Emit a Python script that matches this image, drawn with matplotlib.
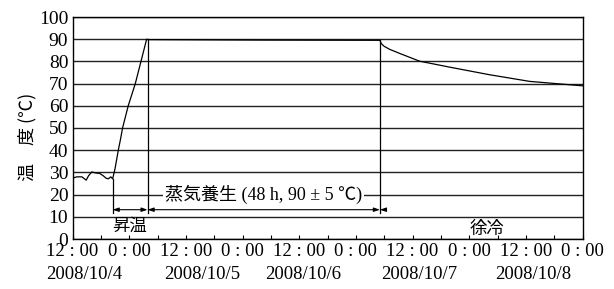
import matplotlib.pyplot as plt
import numpy as np

# temperature record, hours counted from 2008/10/3 12:00
hours = [0.0, 0.9, 2.0, 2.9, 3.4, 4.1, 4.8, 5.8, 6.5, 7.1, 7.6, 8.1, 8.5,
         9.0, 9.7, 10.2, 10.6, 11.8, 13.3, 14.5, 15.7, 16.0, 40.0, 65.1,
         65.4, 66.0, 67.2, 69.4, 73.5, 79.9, 88.3, 96.8, 108.0]
temps = [27.4, 28.0, 28.0, 26.5, 28.5, 30.2, 29.8, 29.5, 28.5, 27.4, 27.1, 28.0, 27.1,
         31.6, 40.0, 45.3, 50.0, 60.0, 70.0, 80.0, 90.0, 89.8, 89.6, 89.5,
         88.0, 86.8, 85.4, 83.5, 80.1, 77.4, 74.0, 71.0, 69.0]

# start of heating, steam curing, slow cooling
phase_hours = [8.5, 15.9, 65.1]
phase_names = ['昇温', '蒸気養生 (48 h, 90 ± 5 ℃)', '徐冷']

tick_hours = list(range(0, 109, 12))
tick_labels = ['12 : 00', '0 : 00'] * 5
date_labels = ['2008/10/4', '2008/10/5', '2008/10/6', '2008/10/7', '2008/10/8']
date_pos = [2.5, 27.5, 48.8, 73.5, 97.5]

serif = ['Liberation Serif', 'Noto Sans CJK JP']
cjk = ['Noto Sans CJK JP', 'DejaVu Sans']

fig = plt.figure(figsize=(6.14, 2.89), dpi=100)
ax = fig.add_axes([72.5 / 614, 1 - 239 / 289, 510 / 614, 222 / 289])

ax.plot(hours, temps, color='black', lw=0.9, zorder=3)

ax.set_xlim(0, 108)
ax.set_ylim(0, 100)
ax.set_yticks(range(0, 101, 10))
ax.set_yticklabels([str(v) for v in range(0, 101, 10)], family=serif, fontsize=14)
ax.set_xticks(tick_hours)
ax.set_xticks(range(0, 109, 6), minor=True)
ax.set_xticklabels(tick_labels, family=serif, fontsize=13.5)
ax.tick_params(axis='y', length=0, pad=3)
ax.tick_params(axis='x', which='both', direction='in', length=3, width=0.8, pad=3)
ax.yaxis.grid(True, color='#222222', lw=1.0)
for s in ax.spines.values():
    s.set_linewidth(1.0)

for d, x in zip(date_labels, date_pos):
    ax.text(x, -0.162, d, transform=ax.get_xaxis_transform(), ha='center', va='center',
            family=serif, fontsize=13.5, clip_on=False)

fig.text(27 / 614, 1 - 137 / 289, '温　度 (℃)', rotation=90, ha='center', va='center',
         family=cjk, fontsize=13)

# phase markers
arrow_t = 13.2
for h in phase_hours:
    top = np.interp(h, hours, temps)
    ax.plot([h, h], [top, 11.8], color='black', lw=0.9)
arrow_kw = dict(arrowstyle='<|-|>,head_length=0.35,head_width=0.12', color='black', lw=0.8,
                shrinkA=0, shrinkB=0)
ax.annotate('', xy=(phase_hours[0], arrow_t), xytext=(phase_hours[1], arrow_t), arrowprops=arrow_kw)
ax.annotate('', xy=(phase_hours[1], arrow_t), xytext=(phase_hours[2], arrow_t), arrowprops=arrow_kw)
ax.annotate('', xy=(phase_hours[2], arrow_t), xytext=(phase_hours[2] + 1.2, arrow_t),
            arrowprops=dict(arrowstyle='-|>,head_length=0.35,head_width=0.12', color='black',
                            lw=0.8, shrinkA=0, shrinkB=0))

ax.text(12.0, 5.8, phase_names[0], ha='center', va='center', family=cjk, fontsize=12.5)
ax.text(40.5, 20, phase_names[1], ha='center', va='center', family=serif, fontsize=13,
        bbox=dict(facecolor='white', edgecolor='none', pad=1.5), zorder=4)
ax.text(87.8, 4.5, phase_names[2], ha='center', va='center', family=cjk, fontsize=12.5)

fig.savefig('out.png', dpi=100)
